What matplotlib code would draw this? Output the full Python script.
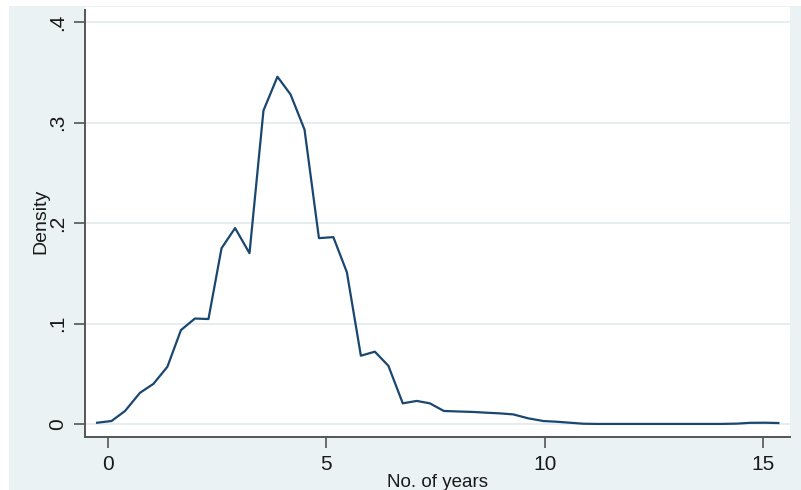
import matplotlib

matplotlib.use("Agg")
import matplotlib.pyplot as plt
from matplotlib.patches import Rectangle

plt.rcParams["font.family"] = ["Liberation Sans", "DejaVu Sans"]

# frequency polygon
years = [-0.25, 0.08, 0.39, 0.73, 1.04, 1.36, 1.67, 1.99, 2.30, 2.60,
         2.91, 3.24, 3.56, 3.88, 4.18, 4.50, 4.83, 5.16, 5.47, 5.79,
         6.11, 6.42, 6.75, 7.07, 7.37, 7.69, 8.02, 8.37, 8.66, 8.98,
         9.28, 9.62, 9.97, 10.27, 10.58, 10.89, 11.20, 12.00, 13.00, 14.00,
         14.40, 14.70, 15.05, 15.35]
density = [0.0013, 0.003, 0.013, 0.031, 0.040, 0.057, 0.0935, 0.105, 0.1045, 0.175,
           0.195, 0.170, 0.312, 0.3456, 0.328, 0.293, 0.185, 0.186, 0.151, 0.068,
           0.072, 0.058, 0.0206, 0.023, 0.0206, 0.013, 0.0125, 0.012, 0.0113, 0.0106,
           0.0096, 0.0057, 0.003, 0.0023, 0.0013, 0.0003, 0.0001, 0.0001, 0.0001, 0.0001,
           0.0004, 0.0012, 0.0013, 0.0010]

xticks = [0, 5, 10, 15]
yticks = [0, 0.1, 0.2, 0.3, 0.4]
ytick_labels = ["0", ".1", ".2", ".3", ".4"]

W, H = 801, 490
BG = "#EAF2F3"
LINE = "#1A476F"

fig = plt.figure(figsize=(W / 100, H / 100), dpi=100, facecolor="white")
# stata style outer background (image is cropped at top/left)
bg = Rectangle((9 / W, 0), 1 - 9 / W, 1 - 6 / H, transform=fig.transFigure,
               facecolor=BG, edgecolor="none", zorder=-10)
fig.add_artist(bg)

left, right, top, bottom = 85, 790, 7, 436.7
ax = fig.add_axes([left / W, 1 - bottom / H, (right - left) / W, (bottom - top) / H])
ax.set_facecolor("white")

ax.plot(years, density, color=LINE, lw=1.6, zorder=3)

ax.set_xlim(-0.527, 15.617)
ax.set_ylim(-0.0126, 0.415)

ax.set_xticks(xticks)
ax.set_xticklabels([str(t) for t in xticks])
ax.set_yticks(yticks)
ax.set_yticklabels(ytick_labels, rotation=90, va="center")

ax.yaxis.grid(True, color="#E4ECEE", lw=1.3, zorder=0)
ax.set_axisbelow(True)

for s in ["top", "right"]:
    ax.spines[s].set_visible(False)
for s in ["left", "bottom"]:
    ax.spines[s].set_color("#555555")
    ax.spines[s].set_linewidth(1.4)
ax.spines["left"].set_bounds(-0.0126, 0.412)

ax.tick_params(axis="both", direction="out", length=8, width=1.2,
               color="#555555", labelsize=15, labelcolor="#1a1a1a", pad=5)

ax.set_ylabel("Density", fontsize=14, labelpad=-1, color="#1a1a1a")
ax.set_xlabel("No. of years", fontsize=13.5, labelpad=0, color="#1a1a1a")

plt.savefig("out.png", dpi=100, facecolor="white")
